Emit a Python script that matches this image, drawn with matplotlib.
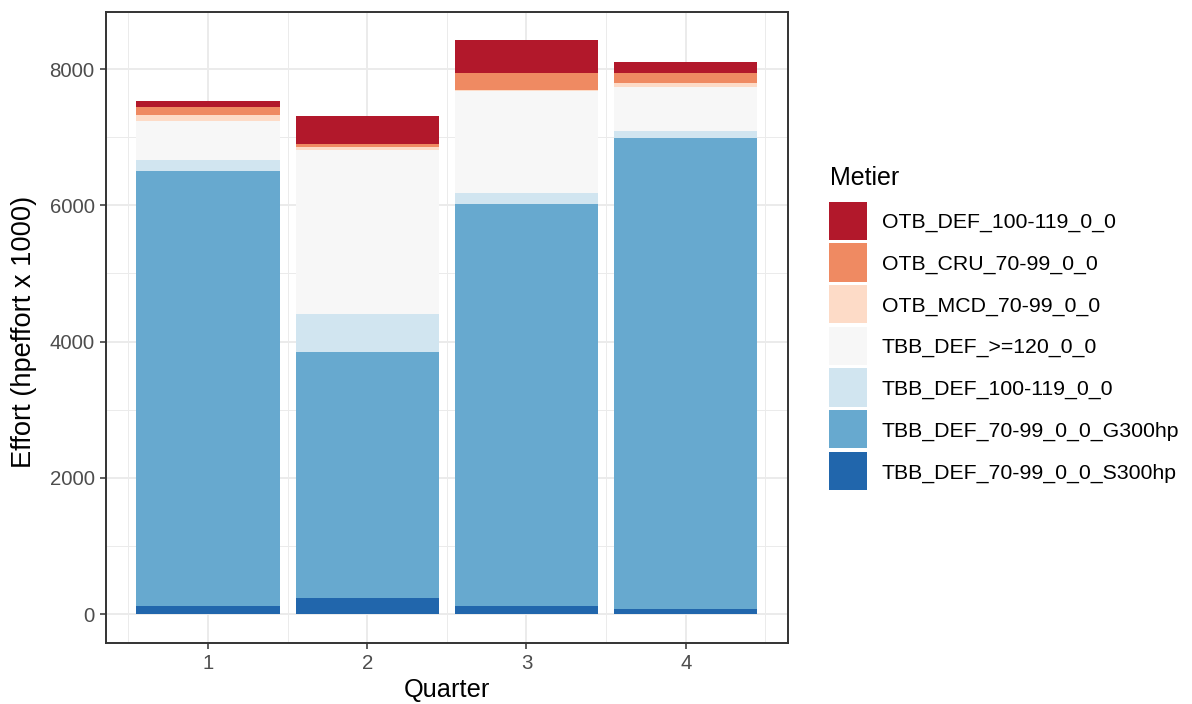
import matplotlib
matplotlib.use("Agg")
import matplotlib.pyplot as plt
from matplotlib.patches import Rectangle
import numpy as np

plt.rcParams['font.family'] = ['Liberation Sans', 'DejaVu Sans']

quarters = [1, 2, 3, 4]
metiers = ["OTB_DEF_100-119_0_0", "OTB_CRU_70-99_0_0", "OTB_MCD_70-99_0_0",
           "TBB_DEF_>=120_0_0", "TBB_DEF_100-119_0_0",
           "TBB_DEF_70-99_0_0_G300hp", "TBB_DEF_70-99_0_0_S300hp"]
colors = ["#B2182B", "#EF8A62", "#FDDBC7", "#F7F7F7", "#D1E5F0", "#67A9CF", "#2166AC"]

otb_def_100 = [84, 416, 485, 163]
otb_cru_70 = [123, 44, 241, 137]
otb_mcd_70 = [83, 40, 14, 68]
tbb_def_120 = [578, 2400, 1494, 638]
tbb_def_100 = [157, 569, 171, 103]
tbb_def_70_g300 = [6383, 3611, 5891, 6917]
tbb_def_70_s300 = [122, 229, 125, 73]

series = [otb_def_100, otb_cru_70, otb_mcd_70, tbb_def_120,
          tbb_def_100, tbb_def_70_g300, tbb_def_70_s300]

W, H = 1192, 704
fig = plt.figure(figsize=(W / 100, H / 100), dpi=100)
L, R, T, B = 105.7, 788.0, 11.7, 642.7
ax = fig.add_axes([L / W, 1 - B / H, (R - L) / W, (B - T) / H])

# stack from bottom (last in legend) to top
bottom = np.zeros(len(quarters))
for vals, col in zip(series[::-1], colors[::-1]):
    ax.bar(quarters, vals, width=0.9, bottom=bottom, color=col, edgecolor='none', zorder=3)
    bottom += np.array(vals)

totals = bottom
ymax = totals.max()
ax.set_ylim(-0.05 * ymax, 1.05 * ymax)
ax.set_xlim(0.358, 4.642)

ax.set_xticks(quarters)
ax.set_xticklabels([str(q) for q in quarters])
ax.set_yticks([0, 2000, 4000, 6000, 8000])
ax.set_yticks([1000, 3000, 5000, 7000], minor=True)
ax.set_xticks([0.5, 1.5, 2.5, 3.5, 4.5], minor=True)

ax.grid(which='major', color='#EBEBEB', linewidth=1.4, zorder=0)
ax.grid(which='minor', color='#EBEBEB', linewidth=0.7, zorder=0)
ax.set_axisbelow(True)
ax.tick_params(which='major', length=4, width=1.1, color='#333333',
               labelsize=14.7, labelcolor='#4D4D4D', pad=4)
ax.tick_params(which='minor', length=0)
for s in ax.spines.values():
    s.set_color('#333333')
    s.set_linewidth(1.4)

fig.text((L + R) / 2 / W, 1 - 697 / H, "Quarter", ha='center', va='baseline',
         fontsize=18.3, color='black')
fig.text(24 / W, 1 - 332 / H, "Effort (hpeffort x 1000)", ha='center', va='center',
         rotation=90, fontsize=19.6, color='black')

# legend
fig.text(830 / W, 1 - 185 / H, "Metier", ha='left', va='baseline', fontsize=18, color='black')
key_top0, pitch, key_h = 201.7, 41.67, 38.3
for i, (name, col) in enumerate(zip(metiers, colors)):
    top = key_top0 + i * pitch
    fig.patches.append(Rectangle((829 / W, 1 - (top + key_h) / H), 37.5 / W, key_h / H,
                                 transform=fig.transFigure, facecolor=col, edgecolor='none'))
    fig.text(881.7 / W, 1 - (top + key_h / 2) / H, name, ha='left', va='center_baseline',
             fontsize=15.3, color='black')

fig.savefig("out.png", dpi=100)
